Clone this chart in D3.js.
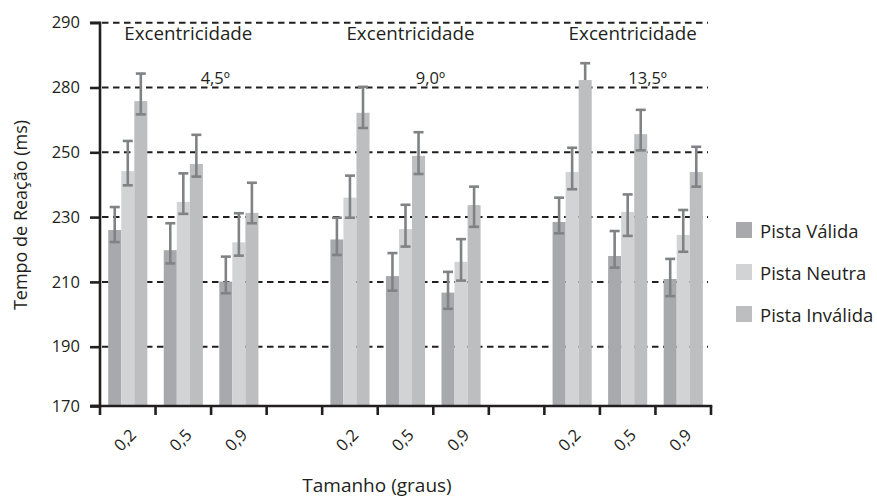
<!DOCTYPE html>
<html>
<head>
<meta charset="utf-8">
<script src="https://cdn.jsdelivr.net/npm/d3@7"></script>
<style>
  html, body { margin: 0; padding: 0; background: #fff; }
  svg { display: block; font-family: "Open Sans", "Noto Sans", sans-serif; }
</style>
</head>
<body>
<svg id="chart" width="877" height="499"></svg>
<script>
// ---- Data ----
const eccentricities = ["4,5º", "9,0º", "13,5º"];
const groupTitle = "Excentricidade";
const sizes = ["0,2", "0,5", "0,9"];
const seriesNames = ["Pista Válida", "Pista Neutra", "Pista Inválida"];

// values ordered: 4,5º (0,2 0,5 0,9), 9,0º (...), 13,5º (...)
const valida   = [226.0, 219.8, 210.1, 223.1, 211.8, 206.7, 228.5, 218.0, 210.9];
const neutra   = [244.2, 234.7, 222.2, 236.0, 226.3, 216.2, 243.9, 231.6, 224.5];
const invalida = [265.8, 246.4, 231.3, 262.2, 248.9, 233.7, 272.3, 255.6, 243.9];

const validaHi   = [233.1, 228.1, 217.8, 229.8, 218.9, 213.1, 236.0, 225.7, 217.1];
const validaLo   = [222.3, 215.7, 206.5, 218.3, 207.3, 201.7, 225.0, 214.4, 205.6];
const neutraHi   = [253.5, 243.5, 231.2, 242.8, 233.8, 223.2, 251.4, 237.0, 232.2];
const neutraLo   = [239.8, 231.0, 218.1, 229.8, 220.9, 210.4, 238.6, 224.2, 219.3];
const invalidaHi = [274.3, 255.4, 240.6, 270.2, 256.2, 239.4, 277.5, 263.1, 251.7];
const invalidaLo = [261.7, 242.5, 228.1, 257.5, 243.3, 227.0, null,  250.6, 239.4];

const yTickValues = [170, 190, 210, 230, 250, 270, 290];
const yTickLabels = ["170", "190", "210", "230", "250", "280", "290"];
const yTitle = "Tempo de Reação (ms)";
const xTitle = "Tamanho (graus)";

const colors = ["#a7a9ac", "#d1d3d4", "#bcbec0"];
const errColor = "#808285";
const ink = "#231f20";

// ---- Build slots ----
const slots = [];
eccentricities.forEach((e, gi) => {
  sizes.forEach(s => slots.push({ key: e + "|" + s, ecc: e, size: s, gi }));
  if (gi < eccentricities.length - 1) slots.push({ key: "gap" + gi, gap: true });
});
const dataSlots = slots.filter(d => !d.gap);
const seriesVals = [valida, neutra, invalida];
const seriesHi = [validaHi, neutraHi, invalidaHi];
const seriesLo = [validaLo, neutraLo, invalidaLo];

const svg = d3.select("#chart");
const mLeft = 100, mRight = 711, mTop = 22.7, mBottom = 406;

const x = d3.scaleBand().domain(slots.map(d => d.key)).range([mLeft, mRight]).padding(0);
const xIn = d3.scaleBand().domain(seriesNames).range([0, x.bandwidth()]).paddingOuter(0.63).paddingInner(0);
const y = d3.scaleLinear().domain([170, 190, 290]).range([mBottom, 346.7, mTop]);

// gridlines
svg.append("g").selectAll("line")
  .data(yTickValues.filter(v => v > 170))
  .join("line")
  .attr("x1", mLeft + 2).attr("x2", 708)
  .attr("y1", d => y(d)).attr("y2", d => y(d))
  .attr("stroke", ink).attr("stroke-width", 2)
  .attr("stroke-dasharray", "6.5,4.5");

// bars
const barG = svg.append("g");
dataSlots.forEach((slot, i) => {
  seriesNames.forEach((s, si) => {
    const v = seriesVals[si][i];
    barG.append("rect")
      .attr("x", x(slot.key) + xIn(s))
      .attr("width", xIn.bandwidth())
      .attr("y", y(v))
      .attr("height", y(170) - y(v))
      .attr("fill", colors[si]);
  });
});

// error bars
const errG = svg.append("g").attr("stroke", errColor).attr("stroke-width", 2.6).attr("fill", "none");
const capW = 10;
dataSlots.forEach((slot, i) => {
  seriesNames.forEach((s, si) => {
    const cx = x(slot.key) + xIn(s) + xIn.bandwidth() / 2;
    const v = seriesVals[si][i];
    const hi = seriesHi[si][i];
    const lo = seriesLo[si][i];
    const lowEnd = lo == null ? v : lo;
    errG.append("line").attr("x1", cx).attr("x2", cx).attr("y1", y(hi)).attr("y2", y(lowEnd));
    errG.append("line").attr("x1", cx - capW / 2).attr("x2", cx + capW / 2).attr("y1", y(hi)).attr("y2", y(hi));
    if (lo != null) {
      errG.append("line").attr("x1", cx - capW / 2).attr("x2", cx + capW / 2).attr("y1", y(lo)).attr("y2", y(lo));
    }
  });
});

// y axis
const yAxis = d3.axisLeft(y).tickValues(yTickValues).tickFormat((d, i) => yTickLabels[i]).tickSize(10).tickPadding(10);
const yg = svg.append("g").attr("transform", `translate(${mLeft},0)`).call(yAxis);
yg.select(".domain").attr("stroke", ink).attr("stroke-width", 2.6).attr("d", `M-10,${mTop}H0V${mBottom}H-10`);
yg.selectAll(".tick line").attr("stroke", ink).attr("stroke-width", 2.6);
yg.selectAll(".tick text").attr("font-size", 16.5).attr("fill", ink)
  .attr("font-family", "'Open Sans', sans-serif");

// x axis line and ticks at band boundaries
svg.append("line").attr("x1", mLeft - 10).attr("x2", mRight + 1.3)
  .attr("y1", mBottom).attr("y2", mBottom).attr("stroke", ink).attr("stroke-width", 2.6);
const boundaries = slots.map(d => x(d.key)).concat([x.range()[1]]);
svg.append("g").selectAll("line").data(boundaries).join("line")
  .attr("x1", d => d).attr("x2", d => d)
  .attr("y1", mBottom).attr("y2", mBottom + 9)
  .attr("stroke", ink).attr("stroke-width", 2.6);

// x tick labels
svg.append("g").selectAll("text").data(dataSlots).join("text")
  .attr("transform", d => `translate(${x(d.key) + x.bandwidth() / 2 + 9.5},436) rotate(-45)`)
  .attr("text-anchor", "end")
  .attr("font-size", 16.5).attr("fill", ink)
  .text(d => d.size);

// group titles
const titleOffset = 5;
const degOffsets = [32, 25, 20];
eccentricities.forEach((e, gi) => {
  const mid = x(e + "|" + sizes[1]) + x.bandwidth() / 2;
  svg.append("text").attr("x", mid + titleOffset).attr("y", 40)
    .attr("text-anchor", "middle").attr("font-size", 18.8).attr("fill", ink)
    .text(groupTitle);
  svg.append("text").attr("x", mid + degOffsets[gi]).attr("y", 84)
    .attr("text-anchor", "middle").attr("font-size", 16.5).attr("fill", ink)
    .text(e);
});

// axis titles
svg.append("text").attr("transform", `translate(27,215) rotate(-90)`)
  .attr("text-anchor", "middle").attr("font-size", 18).attr("fill", ink).text(yTitle);
svg.append("text").attr("x", 377).attr("y", 492)
  .attr("text-anchor", "middle").attr("font-size", 19).attr("fill", ink).text(xTitle);

// legend
const lg = svg.append("g").attr("transform", "translate(736,222)");
seriesNames.forEach((s, si) => {
  const g = lg.append("g").attr("transform", `translate(0,${si * 42})`);
  g.append("rect").attr("width", 16).attr("height", 16).attr("fill", colors[si]);
  g.append("text").attr("x", 24).attr("y", 15.5).attr("font-size", 18.5).attr("fill", ink).text(s);
});
</script>
</body>
</html>
